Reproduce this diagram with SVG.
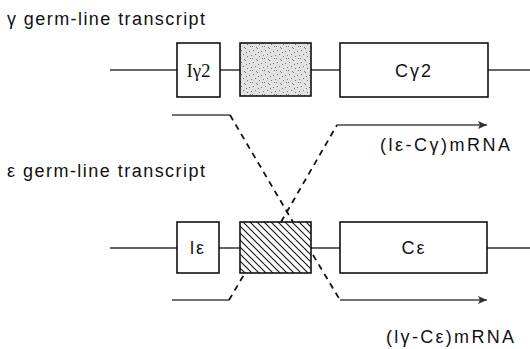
<svg xmlns="http://www.w3.org/2000/svg" width="530" height="349" viewBox="0 0 530 349">
  <style>
    .title { font-family: "Liberation Sans", Arial, sans-serif; font-size: 18px; fill: #111; }
    .lbl { font-family: "Liberation Sans", Arial, sans-serif; font-size: 18px; fill: #111; }
    .box-lbl { font-family: "Liberation Serif", "Times New Roman", serif; font-size: 19px; fill: #111; text-anchor: middle; }
    .box-lbl-s { font-family: "Liberation Sans", Arial, sans-serif; font-size: 18px; fill: #111; text-anchor: middle; }
    .axis { stroke: #333; stroke-width: 1.6; fill: none; }
    .box { stroke: #111; stroke-width: 1.6; fill: #fff; }
    .solid { stroke: #444; stroke-width: 1.6; fill: none; }
    .dash { stroke: #111; stroke-width: 1.8; fill: none; stroke-dasharray: 6 5; }
  </style>
  <defs>
    <pattern id="stipple" width="12" height="12" patternUnits="userSpaceOnUse">
      <rect width="12" height="12" fill="#e2e2e2"/>
      <g fill="#777">
        <rect x="1" y="2" width="1" height="1"/>
        <rect x="5" y="0" width="1" height="1"/>
        <rect x="9" y="3" width="1" height="1"/>
        <rect x="3" y="6" width="1" height="1"/>
        <rect x="7" y="8" width="1" height="1"/>
        <rect x="11" y="7" width="1" height="1"/>
        <rect x="0" y="10" width="1" height="1"/>
        <rect x="4" y="11" width="1" height="1"/>
        <rect x="10" y="10" width="1" height="1"/>
        <rect x="6" y="4" width="1" height="1"/>
      </g>
    </pattern>
    <pattern id="hatch" width="7" height="7" patternUnits="userSpaceOnUse">
      <rect width="7" height="7" fill="#fff"/>
      <path d="M0,0 L7,7 M-1,6 L1,8 M6,-1 L8,1" stroke="#111" stroke-width="1.1"/>
    </pattern>
    <marker id="arrow" markerWidth="10" markerHeight="10" refX="9" refY="5" orient="auto" markerUnits="userSpaceOnUse">
      <path d="M0,1 L9,5 L0,9 L2,5 Z" fill="#333"/>
    </marker>
  </defs>

  <!-- gamma germ-line transcript -->
  <text class="title" x="7" y="25" textLength="198" lengthAdjust="spacing">γ germ-line transcript</text>
  <g id="gamma-line">
    <line class="axis" x1="110" y1="70" x2="530" y2="70"/>
  </g>
  <g id="I-gamma2">
    <rect class="box" x="177" y="43" width="43" height="54"/>
    <text class="box-lbl" x="198.5" y="77">Iγ2</text>
  </g>
  <g id="switch-gamma">
    <rect class="box" x="240" y="43" width="71" height="53" style="fill:url(#stipple)"/>
  </g>
  <g id="C-gamma2">
    <rect class="box" x="340" y="43" width="148" height="54"/>
    <text class="box-lbl-s" x="414" y="77" letter-spacing="2">Cγ2</text>
  </g>

  <!-- epsilon germ-line transcript -->
  <text class="title" x="7" y="177" textLength="198" lengthAdjust="spacing">ε germ-line transcript</text>
  <g id="epsilon-line">
    <line class="axis" x1="110" y1="248" x2="530" y2="248"/>
  </g>
  <g id="I-epsilon">
    <rect class="box" x="177" y="222" width="42" height="51"/>
    <text class="box-lbl-s" x="198" y="254" letter-spacing="2">lε</text>
  </g>
  <g id="switch-epsilon">
    <rect class="box" x="240" y="222" width="71" height="51" style="fill:url(#hatch)"/>
  </g>
  <g id="C-epsilon">
    <rect class="box" x="340" y="222" width="147" height="51"/>
    <text class="box-lbl-s" x="414" y="254" letter-spacing="2">Cε</text>
  </g>

  <!-- recombined transcripts -->
  <g id="connectors">
    <path class="solid" d="M172,115 L230,115"/>
    <path class="dash" d="M230,115 L293,222"/>
    <path class="dash" d="M281,222 L337,125"/>
    <path class="solid" d="M337,125 L487,125" marker-end="url(#arrow)"/>
    <path class="solid" d="M172,300 L229,300"/>
    <path class="dash" d="M229,300 L245,273"/>
    <path class="dash" d="M313,255 L340,300"/>
    <path class="solid" d="M340,300 L487,300" marker-end="url(#arrow)"/>
  </g>

  <text class="lbl" x="380" y="151" textLength="130" lengthAdjust="spacing">(lε-Cγ)mRNA</text>
  <text class="lbl" x="386" y="343" textLength="128" lengthAdjust="spacing">(lγ-Cε)mRNA</text>
</svg>
